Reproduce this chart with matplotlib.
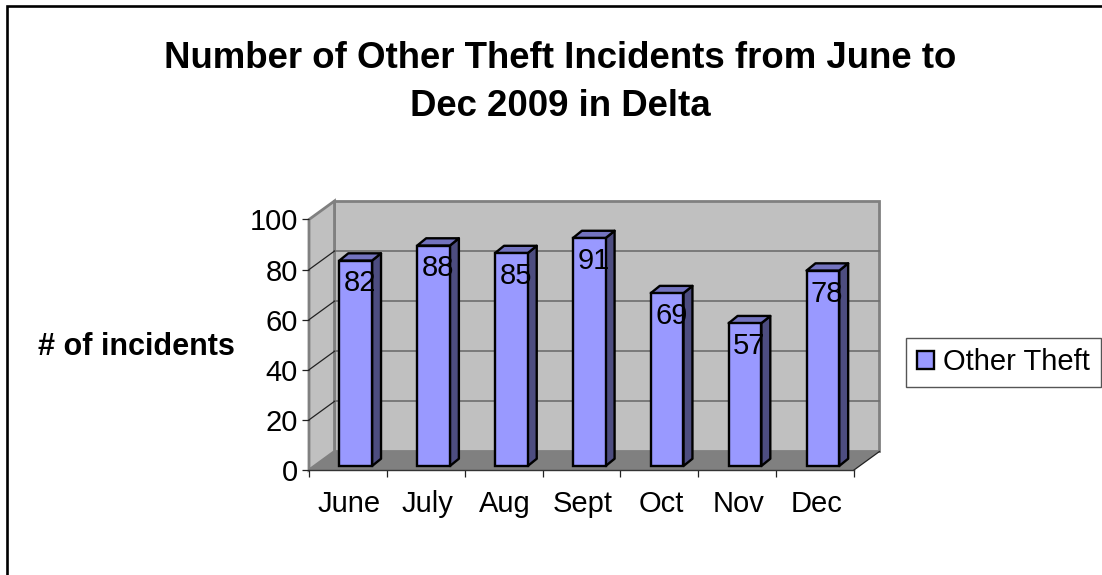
"""Excel-style 3D column chart, drawn as an oblique projection on plain axes."""

import matplotlib

matplotlib.use("Agg")
import matplotlib.pyplot as plt
from matplotlib.lines import Line2D
from matplotlib.patches import Patch, Polygon, Rectangle

plt.rcParams["font.family"] = ["Liberation Sans", "DejaVu Sans"]

MONTHS = ["June", "July", "Aug", "Sept", "Oct", "Nov", "Dec"]
INCIDENTS = [82, 88, 85, 91, 69, 57, 78]
Y_TICKS = [0, 20, 40, 60, 80, 100]
SERIES = "Other Theft"
TITLE = "Number of Other Theft Incidents from June to\nDec 2009 in Delta"
Y_LABEL = "# of incidents"

W, H = 1102, 575
FONT = 21

# depth of the box and of each column, in data units
WALL_DX, WALL_DY = 0.3275, 7.4
BAR_DX, BAR_DY = 0.115, 2.9
BAR_SHIFT, BAR_BASE = 0.1, 1.6
BAR_WIDTH = 0.42

fig = plt.figure(figsize=(W / 100, H / 100), dpi=100)
ax = fig.add_axes([309 / W, 1 - 470 / H, 545 / W, 250.5 / H])
ax.set_xlim(0, len(MONTHS))
ax.set_ylim(0, 100)
for spine in ax.spines.values():
    spine.set_visible(False)
ax.patch.set_visible(False)

n = len(MONTHS)
top = Y_TICKS[-1]

# back wall, side wall, floor
ax.add_patch(Polygon([(WALL_DX, WALL_DY), (n + WALL_DX, WALL_DY), (n + WALL_DX, top + WALL_DY), (WALL_DX, top + WALL_DY)],
                     fc="#c0c0c0", ec="#808080", lw=2, clip_on=False, zorder=1))
ax.add_patch(Polygon([(0, 0), (WALL_DX, WALL_DY), (WALL_DX, top + WALL_DY), (0, top)],
                     fc="#c0c0c0", ec="#808080", lw=2, clip_on=False, zorder=1))
ax.add_patch(Polygon([(0, 0), (WALL_DX, WALL_DY), (n + WALL_DX, WALL_DY), (n, 0)],
                     fc="#808080", ec="none", clip_on=False, zorder=2))

# gridlines: flat on the back wall, slanted on the side wall
for v in Y_TICKS[1:-1]:
    ax.plot([WALL_DX, n + WALL_DX], [v + WALL_DY] * 2, color="#6e6e6e", lw=1.2, clip_on=False, zorder=2)
    ax.plot([0, WALL_DX], [v, v + WALL_DY], color="#222222", lw=0.9, clip_on=False, zorder=2)
ax.plot([n, n + WALL_DX], [0, WALL_DY], color="#222222", lw=0.9, clip_on=False, zorder=3)
ax.plot([0, n], [0, 0], color="#333333", lw=1.0, clip_on=False, zorder=3)

# columns
for i, (month, val) in enumerate(zip(MONTHS, INCIDENTS)):
    x0 = i + 0.5 + BAR_SHIFT - BAR_WIDTH / 2
    x1 = x0 + BAR_WIDTH
    y0 = BAR_BASE
    y1 = BAR_BASE + val
    ax.add_patch(Polygon([(x1, y0), (x1 + BAR_DX, y0 + BAR_DY), (x1 + BAR_DX, y1 + BAR_DY), (x1, y1)],
                         fc="#4d4d80", ec="black", lw=1.7, joinstyle="round", clip_on=False, zorder=4))
    ax.add_patch(Polygon([(x0, y1), (x0 + BAR_DX, y1 + BAR_DY), (x1 + BAR_DX, y1 + BAR_DY), (x1, y1)],
                         fc="#7373bf", ec="black", lw=1.7, joinstyle="round", clip_on=False, zorder=4))
    ax.add_patch(Rectangle((x0, y0), BAR_WIDTH, val, fc="#9999ff", ec="black", lw=1.7, clip_on=False, zorder=5))
    ax.annotate(str(val), xy=((x0 + x1) / 2, y1), xytext=(3, -16.5), textcoords="offset points",
                ha="center", va="center", fontsize=FONT, color="black", zorder=6)

# ticks
ax.set_yticks(Y_TICKS)
ax.tick_params(axis="y", length=5, width=0.9, pad=3, labelsize=FONT, color="#222222")
ax.set_xticks(range(n + 1))
ax.set_xticklabels([])
ax.set_xticks([i + 0.52 for i in range(n)], labels=MONTHS, minor=True)
ax.tick_params(axis="x", which="major", length=5, width=0.9, color="#222222")
ax.tick_params(axis="x", which="minor", length=0, pad=14.5, labelsize=FONT)

ax.set_ylabel(Y_LABEL, rotation=0, fontsize=FONT + 1, fontweight="bold", ha="center", va="center")
ax.yaxis.set_label_coords((136 - 309) / 545, (470 - 347) / 250.5)

fig.text(560 / W, 1 - 58 / H, TITLE.split("\n")[0], ha="center", va="center", fontsize=26.4, fontweight="bold")
fig.text(560 / W, 1 - 106 / H, TITLE.split("\n")[1], ha="center", va="center", fontsize=26.4, fontweight="bold")

fig.legend(handles=[Patch(fc="#9999ff", ec="black", lw=1.7, label=SERIES)],
           loc="center", bbox_to_anchor=(1003.5 / W, 1 - 362.5 / H), fontsize=FONT, fancybox=False, framealpha=1,
           edgecolor="#555555", handlelength=0.6, handleheight=0.6, handletextpad=0.3, borderpad=0.36, borderaxespad=0)

# chart-area border: only the top and left edges show in the image
fig.add_artist(Line2D([7 / W, 7 / W, 1], [0, 1 - 6 / H, 1 - 6 / H], transform=fig.transFigure,
                      color="black", lw=1.9, solid_joinstyle="miter"))

fig.savefig("out.png", dpi=100)
